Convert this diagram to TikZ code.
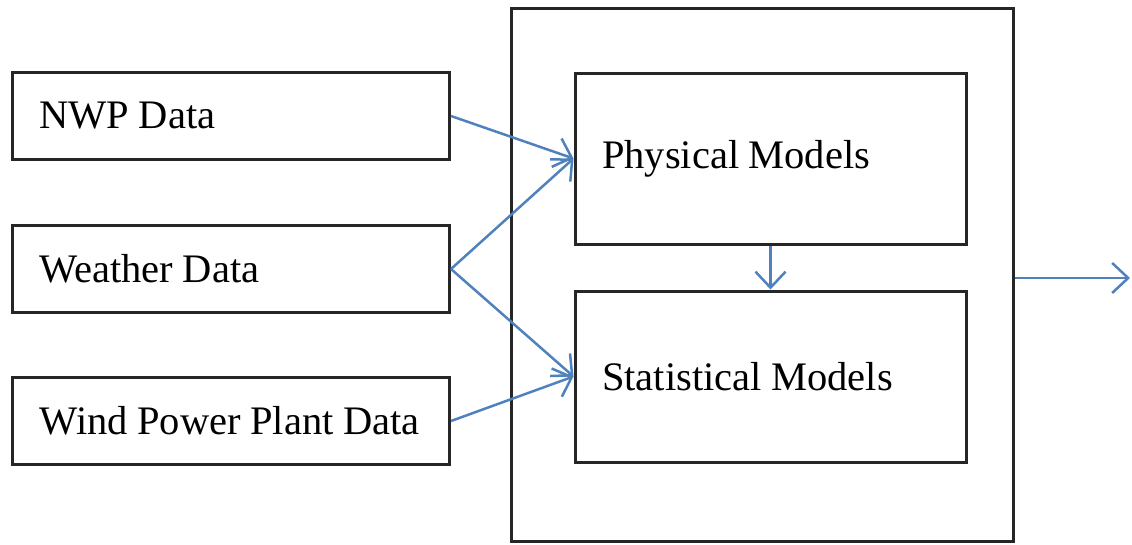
\documentclass[tikz,border=0pt]{standalone}
\usepackage{fontspec}
\setmainfont{Liberation Serif}
\usetikzlibrary{arrows.meta}
\definecolor{linkblue}{RGB}{79,129,189}

\begin{document}
\begin{tikzpicture}[x=1pt, y=-1pt,
    box/.style={draw=black!85, line width=3pt, inner xsep=27pt, inner ysep=0pt,
      align=left, font=\fontsize{40.5}{48}\selectfont,
      execute at begin node={\spaceskip=9.5pt\relax}},
    inbox/.style={box, text width=383pt, minimum height=87pt},
    modelbox/.style={box, text width=337pt, minimum height=171pt},
    link/.style={draw=linkblue, line width=2.5pt,
      -{Straight Barb[length=16pt, width=30pt, line width=2.5pt]}}
  ]
  \useasboundingbox (0,0) rectangle (1132,544);

  % data sources
  \node[inbox] (nwp)     at (231,116) {NWP Data};
  \node[inbox] (weather) at (231,269) {Weather Data};
  \node[inbox] (plant)   at (231,421) {Wind Power Plant Data};

  % forecasting models
  \node[draw=black!85, line width=3pt, minimum width=502pt, minimum height=533pt,
    inner sep=0pt] (model) at (762,274.5) {};
  \node[modelbox] (phys) at (770.5,158.5) {Physical Models};
  \node[modelbox] (stat) at (770.5,376.5) {Statistical Models};
  \coordinate (out) at (1130,278);

  \draw[link] (nwp.east)     -- (phys.west);
  \draw[link] (weather.east) -- (phys.west);
  \draw[link] (weather.east) -- (stat.west);
  \draw[link] (plant.east)   -- (stat.west);
  \draw[link] (phys.south)   -- (stat.north);
  \draw[link] (model.east |- out) -- (out);
\end{tikzpicture}
\end{document}
